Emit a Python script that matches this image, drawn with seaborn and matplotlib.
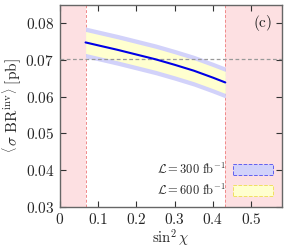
import numpy as np
import pandas as pd
import seaborn as sns
import matplotlib
matplotlib.use("Agg")
import matplotlib.pyplot as plt
from matplotlib.patches import Patch
from matplotlib.ticker import FuncFormatter

# data
sin2chi = [0.067, 0.10, 0.15, 0.20, 0.25, 0.30, 0.35, 0.40, 0.432]
sigma_br = [0.0748, 0.0740, 0.0728, 0.0715, 0.0702, 0.0687, 0.0671, 0.0652, 0.0639]
err_600 = [0.0030, 0.0030, 0.0030, 0.0030, 0.0030, 0.0030, 0.0030, 0.0030, 0.0030]
err_300 = [0.0042, 0.0042, 0.0042, 0.0042, 0.0042, 0.0042, 0.0042, 0.0042, 0.0042]
excluded_left = (0.0, 0.067)
excluded_right = (0.432, 0.58)
ref_level = 0.0702
legend_labels = [r"$\mathcal{L}=300\ \mathrm{fb}^{-1}$", r"$\mathcal{L}=600\ \mathrm{fb}^{-1}$"]

df = pd.DataFrame({"x": sin2chi, "y": sigma_br, "e6": err_600, "e3": err_300})

sns.set_style("ticks")
plt.rcParams["font.family"] = ["DejaVu Serif"]
plt.rcParams["mathtext.fontset"] = "cm"
plt.rcParams["font.size"] = 10

fig = plt.figure(figsize=(2.88, 2.49), dpi=100)
ax = fig.add_axes([0.208, 0.169, 0.771, 0.811])

pink = "#fde0e2"
red_edge = "#f08a8a"
for lo, hi in [excluded_left, excluded_right]:
    ax.axvspan(lo, hi, color=pink, lw=0, zorder=0)
ax.axvline(excluded_left[1], color=red_edge, ls=(0, (3, 2)), lw=0.7, zorder=1)
ax.axvline(excluded_right[0], color=red_edge, ls=(0, (3, 2)), lw=0.7, zorder=1)

ax.fill_between(df["x"], df["y"] - df["e3"], df["y"] + df["e3"], color="#d2d2fa", lw=0, zorder=2)
ax.fill_between(df["x"], df["y"] - df["e6"], df["y"] + df["e6"], color="#ffffcf", lw=0, zorder=3)
ax.axhline(ref_level, color="#999999", ls=(0, (3, 2)), lw=0.9, zorder=4)
sns.lineplot(data=df, x="x", y="y", ax=ax, color="#0000e6", lw=1.5, zorder=5)

ax.set_xlim(0, 0.58)
ax.set_ylim(0.03, 0.085)
ax.set_xticks([0, 0.1, 0.2, 0.3, 0.4, 0.5])
ax.set_yticks([0.03, 0.04, 0.05, 0.06, 0.07, 0.08])
fmt = FuncFormatter(lambda v, p: "$%g$" % round(v, 3))
ax.xaxis.set_major_formatter(fmt)
ax.yaxis.set_major_formatter(fmt)
ax.tick_params(direction="in", top=True, right=True, length=4, width=0.8,
               color="#333333", labelsize=11, pad=4)
for s in ax.spines.values():
    s.set_color("#666666")
    s.set_linewidth(1.0)

ax.set_xlabel(r"$\sin^2\chi$", fontsize=10.5, labelpad=0)
ax.set_ylabel(r"$\left\langle\,\sigma\ \mathrm{BR}^{\mathrm{inv}}\right\rangle\ \mathrm{[pb]}$",
              fontsize=11, labelpad=2)
ax.text(0.53, 0.080, r"$\mathrm{(c)}$", fontsize=11, ha="center", va="center")

handles = [Patch(facecolor="#d2d2fa", edgecolor="#6060f0", ls="--", lw=0.7),
           Patch(facecolor="#ffffcf", edgecolor="#f0e060", ls="--", lw=0.7)]
ax.legend(handles, legend_labels, loc="lower right", frameon=False, markerfirst=False,
          fontsize=9, handlelength=3.2, handleheight=1.0, borderaxespad=0.3,
          handletextpad=0.6, labelspacing=0.5)

fig.savefig("out.png", dpi=100)
